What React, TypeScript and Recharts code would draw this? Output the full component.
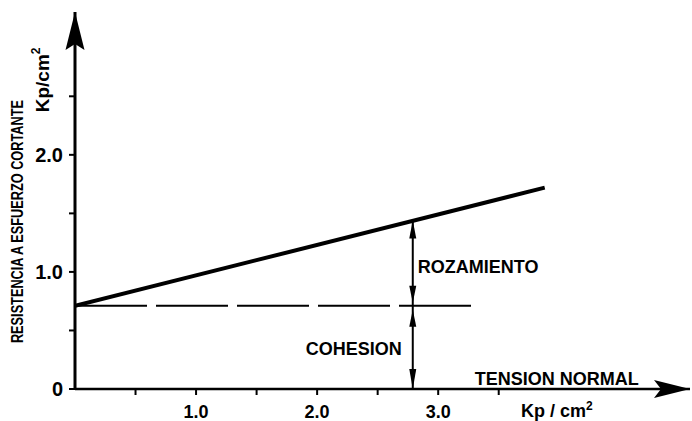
import { LineChart, Line, XAxis, YAxis, ReferenceLine, ReferenceDot } from "recharts"

const FONT = '"Liberation Sans", Arial, sans-serif'

// axis ranges (tensión normal / resistencia, Kp/cm²)
const xMax = 5.08
const yMax = 3.22
const xTicks = [0.5, 1, 1.5, 2, 2.5, 3, 3.5]
const yTicks = [0, 0.5, 1, 1.5, 2, 2.5]
const xLabeled = [1, 2, 3]
const yLabeled = [0, 1, 2]

// Coulomb line
const strengthLine = [
  { sigma: 0, tau: 0.71 },
  { sigma: 3.88, tau: 1.72 },
]
const cohesion = 0.71
const cohesionDashEnd = 3.28
const arrowSigma = 2.79
const arrowTop = 1.44

// label anchors
const cohesionLabelTau = 0.34
const frictionLabelTau = 1.04
const xTitleSigma = 3.98
const yTitleTau = 1.43
const yUnitTau = 2.64

const upHead = (cx: number, cy: number, len: number, half: number, notch = 0) =>
  `M${cx},${cy} L${cx - half},${cy + len} L${cx},${cy + len - notch} L${cx + half},${cy + len} Z`
const downHead = (cx: number, cy: number, len: number, half: number) =>
  `M${cx},${cy} L${cx - half},${cy - len} L${cx + half},${cy - len} Z`

export default function App() {
  return (
    <div style={{ position: "absolute", left: 0, top: 0 }}>
      <LineChart
        width={692}
        height={421}
        data={strengthLine}
        margin={{ top: 12, right: 2, left: 74, bottom: 31 }}
        style={{ background: "#fff" }}
      >
        <XAxis
          dataKey="sigma"
          type="number"
          domain={[0, xMax]}
          ticks={xTicks}
          allowDataOverflow
          height={1}
          axisLine={{ stroke: "#000", strokeWidth: 2.5 }}
          tickLine={{ stroke: "#000", strokeWidth: 2 }}
          tickSize={6}
          tickMargin={10}
          tick={{ fill: "#000", fontSize: 18, fontWeight: 700, fontFamily: FONT }}
          tickFormatter={(v: number) => (xLabeled.includes(v) ? v.toFixed(1) : "")}
          interval={0}
        />
        <YAxis
          type="number"
          domain={[0, yMax]}
          ticks={yTicks}
          allowDataOverflow
          width={1}
          axisLine={{ stroke: "#000", strokeWidth: 3 }}
          tickLine={{ stroke: "#000", strokeWidth: 2 }}
          tickSize={6}
          tickMargin={6}
          tick={{ fill: "#000", fontSize: 20, fontWeight: 700, fontFamily: FONT }}
          tickFormatter={(v: number) => (yLabeled.includes(v) ? (v === 0 ? "0" : v.toFixed(1)) : "")}
          interval={0}
        />

        <ReferenceLine
          segment={[
            { x: 0, y: cohesion },
            { x: cohesionDashEnd, y: cohesion },
          ]}
          stroke="#000"
          strokeWidth={2}
          strokeDasharray="72 9"
        />
        <ReferenceLine
          segment={[
            { x: arrowSigma, y: 0 },
            { x: arrowSigma, y: arrowTop },
          ]}
          stroke="#000"
          strokeWidth={2}
        />
        <Line
          dataKey="tau"
          stroke="#000"
          strokeWidth={4}
          dot={false}
          activeDot={false}
          isAnimationActive={false}
        />

        {/* axis arrowheads */}
        <ReferenceDot
          x={0}
          y={yMax}
          ifOverflow="visible"
          shape={(p: any) => <path d={upHead(p.cx, p.cy, 38, 9.5, 6)} fill="#000" />}
        />
        <ReferenceDot
          x={xMax}
          y={0}
          ifOverflow="visible"
          shape={(p: any) => (
            <path
              d={`M${p.cx},${p.cy} L${p.cx - 36},${p.cy - 9} L${p.cx - 29},${p.cy} L${p.cx - 36},${p.cy + 9} Z`}
              fill="#000"
            />
          )}
        />

        {/* double arrows */}
        <ReferenceDot
          x={arrowSigma}
          y={arrowTop}
          ifOverflow="visible"
          shape={(p: any) => <path d={upHead(p.cx, p.cy, 18, 3.5)} fill="#000" />}
        />
        <ReferenceDot
          x={arrowSigma}
          y={cohesion}
          ifOverflow="visible"
          shape={(p: any) => (
            <g>
              <path d={downHead(p.cx, p.cy - 3, 17, 3.5)} fill="#000" />
              <path d={upHead(p.cx, p.cy + 4, 17, 3.5)} fill="#000" />
            </g>
          )}
        />
        <ReferenceDot
          x={arrowSigma}
          y={0}
          ifOverflow="visible"
          shape={(p: any) => <path d={downHead(p.cx, p.cy, 20, 3.5)} fill="#000" />}
        />

        {/* annotations */}
        <ReferenceDot
          x={arrowSigma}
          y={cohesionLabelTau}
          ifOverflow="visible"
          shape={(p: any) => (
            <text x={p.cx - 11} y={p.cy} textAnchor="end" dominantBaseline="central" fontFamily={FONT} fontSize={18} fontWeight={700} fill="#000">
              COHESION
            </text>
          )}
        />
        <ReferenceDot
          x={arrowSigma}
          y={frictionLabelTau}
          ifOverflow="visible"
          shape={(p: any) => (
            <text x={p.cx + 5} y={p.cy} textAnchor="start" dominantBaseline="central" fontFamily={FONT} fontSize={18} fontWeight={700} fill="#000">
              ROZAMIENTO
            </text>
          )}
        />
        <ReferenceDot
          x={xTitleSigma}
          y={0}
          ifOverflow="visible"
          shape={(p: any) => (
            <g fontFamily={FONT} fontWeight={700} fill="#000" textAnchor="middle">
              <text x={p.cx} y={p.cy - 4} fontSize={18}>
                TENSION NORMAL
              </text>
              <text x={p.cx} y={p.cy + 28} fontSize={18}>
                Kp / cm
                <tspan fontSize={12} dy={-7}>
                  2
                </tspan>
              </text>
            </g>
          )}
        />
        <ReferenceDot
          x={0}
          y={yTitleTau}
          ifOverflow="visible"
          shape={(p: any) => (
            <text
              x={p.cx - 57}
              y={p.cy}
              transform={`rotate(-90, ${p.cx - 57}, ${p.cy})`}
              textAnchor="middle"
              dominantBaseline="central"
              fontFamily={FONT}
              fontSize={16}
              fontWeight={700}
              fill="#000"
              textLength={243}
              lengthAdjust="spacingAndGlyphs"
            >
              RESISTENCIA  A  ESFUERZO  CORTANTE
            </text>
          )}
        />
        <ReferenceDot
          x={0}
          y={yUnitTau}
          ifOverflow="visible"
          shape={(p: any) => (
            <text
              x={p.cx - 32}
              y={p.cy}
              transform={`rotate(-90, ${p.cx - 32}, ${p.cy})`}
              textAnchor="middle"
              dominantBaseline="central"
              fontFamily={FONT}
              fontSize={19}
              fontWeight={700}
              fill="#000"
            >
              Kp/cm
              <tspan fontSize={12} dy={-7}>
                2
              </tspan>
            </text>
          )}
        />
      </LineChart>
    </div>
  )
}
